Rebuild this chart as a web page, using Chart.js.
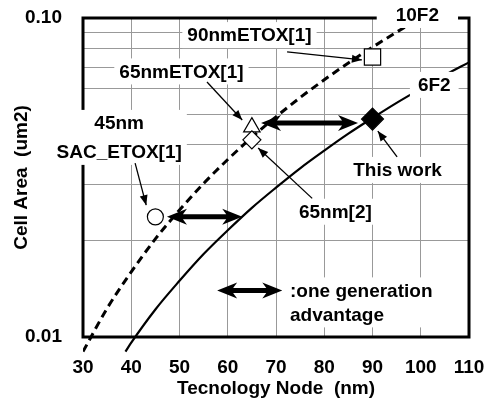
<!DOCTYPE html>
<html>
<head>
<meta charset="utf-8">
<script src="https://cdn.jsdelivr.net/npm/chart.js@4.4.1/dist/chart.umd.min.js"></script>
<style>
  html, body { margin: 0; padding: 0; background: #fff; }
  #wrap { width: 485px; height: 400px; }
</style>
</head>
<body>
<div id="wrap"><canvas id="chart"></canvas></div>
<script>
// values
const nodes10F2 = [30, 35, 40, 45, 50, 55, 60, 65, 70, 75, 80, 85, 90, 95, 100]
const area10F2 = [0.0090, 0.0123, 0.0160, 0.0203, 0.0250, 0.0303, 0.0360, 0.0423, 0.0490, 0.0563, 0.0640, 0.0723, 0.0810, 0.0903, 0.1000]
const nodes6F2 = [38.8, 40, 45, 50, 55, 60, 65, 70, 75, 80, 85, 90, 95, 100, 105, 110]
const area6F2 = [0.0090, 0.0096, 0.0122, 0.0150, 0.0182, 0.0216, 0.0254, 0.0294, 0.0338, 0.0384, 0.0434, 0.0486, 0.0542, 0.0600, 0.0662, 0.0726]

const cellNames = ['90nmETOX[1]', '65nmETOX[1]', '65nm[2]', 'This work', '45nm SAC_ETOX[1]']
const cellNodes = [90, 65, 65, 90, 45]
const cellAreas = [0.0755, 0.0455, 0.0415, 0.0482, 0.0238]

// "one generation advantage" arrows
const advFrom = [66.9, 47.4, 57.8]
const advTo = [87.0, 63.0, 71.3]
const advArea = [0.0469, 0.0238, 0.0140]

const xTicks = [30, 40, 50, 60, 70, 80, 90, 100, 110]
const yTicks = [0.01, 0.02, 0.03, 0.04, 0.05, 0.06, 0.07, 0.08, 0.09, 0.1]
const yTickValues = [0.01, 0.1]
const yTickText = ['0.01', '0.10']

const FONT = 'bold 19px "Liberation Sans", Arial, sans-serif'
const fontOpt = { family: '"Liberation Sans", Arial, sans-serif', size: 19, weight: 'bold' }

// text boxes, anchored in data units
const notes = [
  { lines: ['90nmETOX[1]'], x: 64.5, y: 0.0884 },
  { lines: ['65nmETOX[1]'], x: 50.4, y: 0.0680 },
  { lines: ['45nm', 'SAC_ETOX[1]'], x: 37.5, y: 0.0469, gap: 29 },
  { lines: ['65nm[2]'], x: 82.3, y: 0.0247 },
  { lines: ['This work'], x: 95.2, y: 0.0334 },
  { lines: ['10F2'], x: 99.3, y: 0.1022, padX: 19 },
  { lines: ['6F2'], x: 102.8, y: 0.0617, padX: 8 },
  { lines: [':one generation', 'advantage'], x: 72.9, y: 0.0140, gap: 24, align: 'left' }
]

const leaders = [
  { from: [72.3, 0.0783], to: [87.8, 0.0739] },
  { from: [55.7, 0.0630], to: [63.0, 0.0479] },
  { from: [40.8, 0.0351], to: [43.1, 0.0259] },
  { from: [77.5, 0.0272], to: [66.3, 0.0391] },
  { from: [95.1, 0.0367], to: [91.1, 0.0442] }
]

function smallHead(ctx, x0, y0, x1, y1) {
  const ang = Math.atan2(y1 - y0, x1 - x0)
  ctx.save()
  ctx.translate(x1, y1)
  ctx.rotate(ang)
  ctx.beginPath()
  ctx.moveTo(0, 0)
  ctx.lineTo(-10, -4)
  ctx.lineTo(-10, 4)
  ctx.closePath()
  ctx.fill()
  ctx.restore()
}

function fatArrow(ctx, xa, xb, yy) {
  const L = 20, W = 8, s = 2.5
  ctx.beginPath()
  ctx.moveTo(xa, yy)
  ctx.lineTo(xa + L, yy - W)
  ctx.lineTo(xa + L - 4, yy - s)
  ctx.lineTo(xb - L + 4, yy - s)
  ctx.lineTo(xb - L, yy - W)
  ctx.lineTo(xb, yy)
  ctx.lineTo(xb - L, yy + W)
  ctx.lineTo(xb - L + 4, yy + s)
  ctx.lineTo(xa + L - 4, yy + s)
  ctx.lineTo(xa + L, yy + W)
  ctx.closePath()
  ctx.fill()
}

const annotate = {
  id: 'annotate',
  afterDatasetsDraw(chart) {
    const { ctx, chartArea: a, scales: { x, y } } = chart
    ctx.save()
    ctx.strokeStyle = '#000'
    ctx.lineWidth = 3
    ctx.strokeRect(a.left, a.top, a.right - a.left, a.bottom - a.top)

    ctx.font = FONT
    ctx.textBaseline = 'middle'
    ctx.textAlign = 'left'
    notes.forEach(n => {
      const px = x.getPixelForValue(n.x)
      const py = y.getPixelForValue(n.y)
      const widths = n.lines.map(t => ctx.measureText(t).width)
      const w = Math.max(...widths)
      const left = n.align === 'left' ? px : px - w / 2
      const gap = n.gap || 0
      const padX = n.padX || 5
      ctx.fillStyle = '#fff'
      ctx.fillRect(left - padX, py - 13, w + padX * 2, (n.lines.length - 1) * gap + 26)
      ctx.fillStyle = '#000'
      n.lines.forEach((t, i) => {
        const tx = n.align === 'left' ? left : px - widths[i] / 2
        ctx.fillText(t, tx, py + i * gap + 1)
      })
    })

    ctx.strokeStyle = '#000'
    ctx.fillStyle = '#000'
    ctx.lineWidth = 1.3
    leaders.forEach(l => {
      const x0 = x.getPixelForValue(l.from[0]), y0 = y.getPixelForValue(l.from[1])
      const x1 = x.getPixelForValue(l.to[0]), y1 = y.getPixelForValue(l.to[1])
      ctx.beginPath()
      ctx.moveTo(x0, y0)
      ctx.lineTo(x1, y1)
      ctx.stroke()
      smallHead(ctx, x0, y0, x1, y1)
    })

    advFrom.forEach((v, i) => {
      fatArrow(ctx, x.getPixelForValue(v), x.getPixelForValue(advTo[i]), y.getPixelForValue(advArea[i]))
    })
    ctx.restore()
  }
}

new Chart(document.getElementById('chart'), {
  type: 'scatter',
  data: {
    datasets: [
      {
        label: 'cells',
        data: cellNodes.map((v, i) => ({ x: v, y: cellAreas[i] })),
        pointStyle: ['rect', 'triangle', 'rectRot', 'rectRot', 'circle'],
        pointRadius: [11.5, 9.5, 9, 11, 8],
        pointBackgroundColor: ['#fff', '#fff', '#fff', '#000', '#fff'],
        pointBorderColor: '#000',
        pointBorderWidth: 1.2,
        showLine: false
      },
      {
        label: '10F2',
        data: nodes10F2.map((v, i) => ({ x: v, y: area10F2[i] })),
        showLine: true,
        borderColor: '#000',
        borderWidth: 3,
        borderDash: [8, 5],
        pointRadius: 0,
        cubicInterpolationMode: 'monotone',
        clip: { left: 0, top: 0, right: 0, bottom: 16 }
      },
      {
        label: '6F2',
        data: nodes6F2.map((v, i) => ({ x: v, y: area6F2[i] })),
        showLine: true,
        borderColor: '#000',
        borderWidth: 2.2,
        pointRadius: 0,
        cubicInterpolationMode: 'monotone',
        clip: { left: 0, top: 0, right: 0, bottom: 16 }
      }
    ]
  },
  options: {
    responsive: true,
    maintainAspectRatio: false,
    animation: false,
    layout: { padding: { top: 18, right: 16, left: 0, bottom: 0 } },
    plugins: {
      legend: { display: false },
      tooltip: { enabled: false }
    },
    scales: {
      x: {
        type: 'linear',
        min: 30,
        max: 110,
        afterBuildTicks: s => { s.ticks = xTicks.map(v => ({ value: v })) },
        afterFit: s => {
          s.height = 63
          s.paddingLeft = 0
          s.paddingRight = 0
        },
        grid: { color: '#999', lineWidth: 1, drawTicks: false },
        border: { display: false },
        ticks: { padding: 19, color: '#000', font: fontOpt },
        title: { display: true, text: 'Tecnology Node  (nm)', color: '#000', font: fontOpt, padding: { top: 0, bottom: 0 } }
      },
      y: {
        type: 'logarithmic',
        min: 0.01,
        max: 0.1,
        afterBuildTicks: s => { s.ticks = yTicks.map(v => ({ value: v })) },
        afterFit: s => {
          s.width = 83
          s.paddingTop = 0
          s.paddingBottom = 0
        },
        grid: { color: '#999', lineWidth: 1, drawTicks: false },
        border: { display: false },
        ticks: {
          autoSkip: false,
          padding: 21,
          color: '#000',
          font: fontOpt,
          callback: v => {
            const k = yTickValues.findIndex(t => Math.abs(t - v) < 1e-9)
            return k >= 0 ? yTickText[k] : ''
          }
        },
        title: { display: true, text: 'Cell Area  (um2)', color: '#000', font: fontOpt, padding: { top: 10, bottom: 0 } }
      }
    }
  },
  plugins: [annotate]
})
</script>
</body>
</html>
